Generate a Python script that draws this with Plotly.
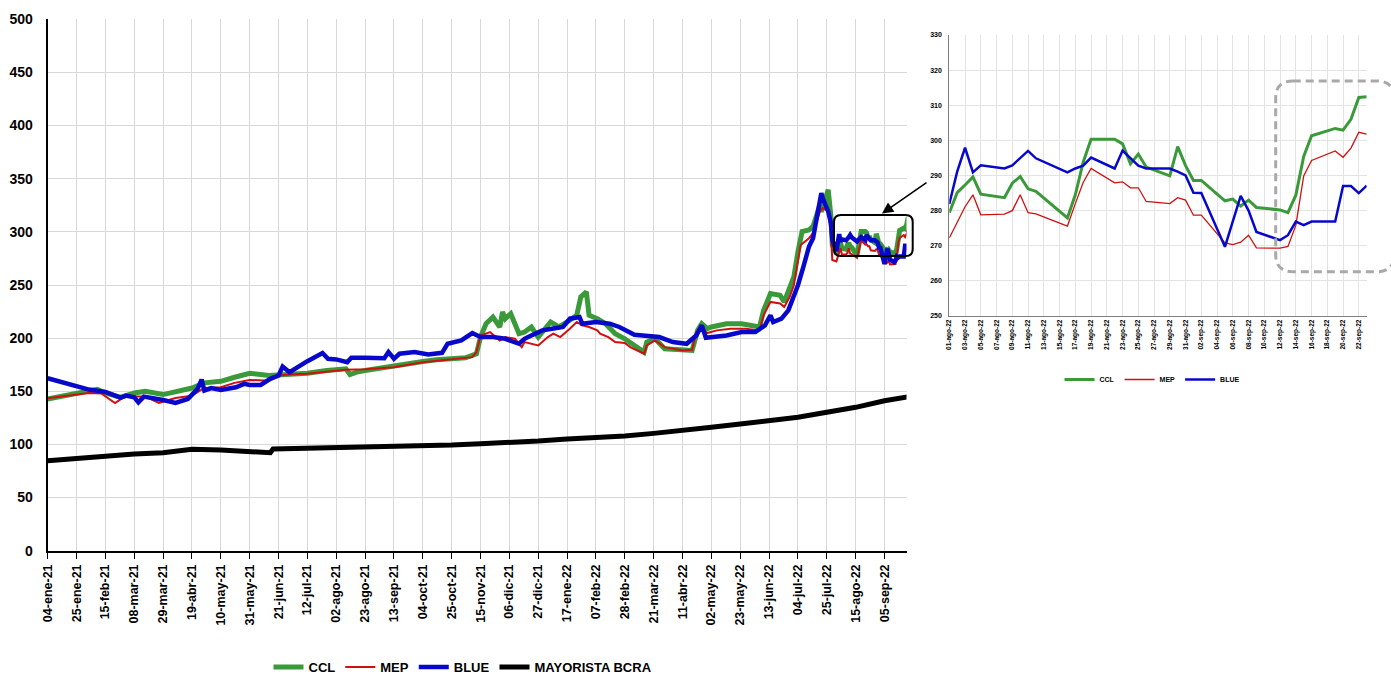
import plotly.graph_objects as go

W, H = 1391, 677

# ---------------- main chart data ----------------
ccl_dates = ["2021-01-04","2021-01-13","2021-01-25","2021-02-03","2021-02-09","2021-02-15","2021-02-26","2021-03-08","2021-03-16","2021-03-29","2021-04-07","2021-04-19","2021-04-28","2021-05-10","2021-05-20","2021-05-31","2021-06-14","2021-06-21","2021-07-02","2021-07-12","2021-07-26","2021-08-09","2021-08-12","2021-08-17","2021-08-23","2021-09-03","2021-09-13","2021-09-24","2021-10-04","2021-10-14","2021-10-25","2021-11-04","2021-11-12","2021-11-15","2021-11-19","2021-11-22","2021-11-24","2021-11-29","2021-12-01","2021-12-03","2021-12-07","2021-12-13","2021-12-17","2021-12-22","2021-12-27","2022-01-05","2022-01-11","2022-01-19","2022-01-24","2022-01-27","2022-01-31","2022-02-02","2022-02-08","2022-02-14","2022-02-21","2022-02-28","2022-03-10","2022-03-14","2022-03-16","2022-03-22","2022-03-29","2022-04-11","2022-04-18","2022-04-22","2022-04-25","2022-04-29","2022-05-02","2022-05-13","2022-05-24","2022-06-06","2022-06-09","2022-06-14","2022-06-21","2022-06-24","2022-06-27","2022-07-01","2022-07-04","2022-07-07","2022-07-12","2022-07-15","2022-07-20","2022-07-21","2022-07-26","2022-07-28","2022-07-29"]
ccl_vals = [142.8,145.0,148.4,150.0,151.9,148.4,144.3,148.4,150.0,146.9,150.0,153.1,157.9,159.4,163.2,167.0,164.8,165.4,167.0,167.0,169.5,171.1,165.7,168.0,169.5,172.0,173.3,176.5,178.0,179.6,180.6,181.5,185.3,201.0,213.6,216.8,219.9,210.5,224.6,218.3,223.0,204.2,205.7,210.5,201.0,215.2,210.5,216.8,221.5,238.8,243.5,221.5,218.3,213.6,204.2,199.4,190.0,186.8,196.3,199.4,190.0,189.1,188.4,207.3,213.6,208.9,210.5,213.6,213.6,210.5,226.1,241.9,240.4,234.0,245.0,257.7,281.3,300.2,301.8,305.0,325.4,319.0,339.6,314.5,287.6]

mep_dates = ["2021-01-04","2021-01-13","2021-01-25","2021-02-03","2021-02-12","2021-02-22","2021-03-01","2021-03-08","2021-03-16","2021-03-26","2021-04-07","2021-04-19","2021-04-28","2021-05-10","2021-05-20","2021-05-31","2021-06-14","2021-06-21","2021-06-29","2021-07-12","2021-07-26","2021-08-09","2021-08-23","2021-09-13","2021-10-04","2021-10-25","2021-11-09","2021-11-12","2021-11-15","2021-11-22","2021-11-29","2021-12-03","2021-12-10","2021-12-15","2021-12-17","2021-12-27","2022-01-03","2022-01-07","2022-01-12","2022-01-19","2022-01-24","2022-01-28","2022-02-02","2022-02-08","2022-02-10","2022-02-16","2022-02-21","2022-02-28","2022-03-04","2022-03-14","2022-03-16","2022-03-22","2022-03-29","2022-04-11","2022-04-18","2022-04-21","2022-04-25","2022-04-29","2022-05-06","2022-05-16","2022-05-27","2022-06-06","2022-06-09","2022-06-14","2022-06-21","2022-06-24","2022-06-28","2022-07-01","2022-07-04","2022-07-06","2022-07-12","2022-07-15","2022-07-20","2022-07-22","2022-07-26","2022-07-28","2022-07-29"]
mep_vals = [143.4,145.0,146.5,148.4,148.0,139.0,145.0,145.3,145.0,139.0,143.7,145.9,153.1,153.8,157.9,160.7,160.0,164.8,165.7,166.4,168.3,170.2,170.8,172.7,177.4,180.0,182.1,186.9,202.5,205.7,197.8,201.0,199.4,191.5,196.3,193.1,201.0,204.2,201.0,208.9,215.2,212.0,210.5,207.3,204.2,201.0,196.3,195.4,191.5,185.3,193.1,197.8,191.5,188.4,189.1,205.7,208.9,204.8,207.3,208.9,208.9,207.3,221.5,234.1,232.6,229.4,238.8,249.8,271.9,287.6,294.0,298.7,319.2,322.3,319.2,298.7,273.5]

blue_dates = ["2021-01-04","2021-01-13","2021-01-25","2021-02-03","2021-02-15","2021-02-26","2021-03-02","2021-03-08","2021-03-11","2021-03-15","2021-03-29","2021-04-07","2021-04-16","2021-04-23","2021-04-26","2021-04-28","2021-05-03","2021-05-10","2021-05-21","2021-05-27","2021-05-31","2021-06-08","2021-06-15","2021-06-21","2021-06-24","2021-06-29","2021-07-12","2021-07-23","2021-07-27","2021-08-02","2021-08-10","2021-08-13","2021-08-23","2021-09-06","2021-09-09","2021-09-13","2021-09-17","2021-09-28","2021-10-08","2021-10-18","2021-10-22","2021-11-01","2021-11-09","2021-11-15","2021-11-24","2021-12-03","2021-12-13","2021-12-17","2021-12-22","2021-12-30","2022-01-06","2022-01-14","2022-01-19","2022-01-26","2022-01-28","2022-02-07","2022-02-17","2022-02-24","2022-03-07","2022-03-16","2022-03-25","2022-04-04","2022-04-14","2022-04-21","2022-04-25","2022-04-28","2022-05-06","2022-05-13","2022-05-24","2022-06-03","2022-06-10","2022-06-14","2022-06-16","2022-06-22","2022-06-27","2022-07-01","2022-07-04","2022-07-08","2022-07-12","2022-07-15","2022-07-18","2022-07-21","2022-07-22","2022-07-26","2022-07-28","2022-07-29"]
blue_vals = [162.3,159.1,155.4,151.6,149.4,144.0,146.0,144.3,139.6,145.0,141.8,139.0,142.8,152.0,161.0,150.6,153.0,151.3,153.8,157.0,156.0,156.0,161.7,164.8,173.3,168.0,178.3,186.0,180.6,180.0,177.4,181.5,181.5,181.0,186.9,180.6,185.3,186.9,184.6,186.2,194.7,197.9,204.8,201.0,201.0,199.4,194.7,199.4,202.5,207.3,208.9,210.5,218.3,219.9,213.6,215.2,213.6,210.5,203.2,201.7,201.0,196.3,194.7,202.5,212.0,200.3,201.7,202.5,205.7,205.7,212.0,221.5,215.2,218.3,226.1,238.8,249.8,267.2,286.0,294.0,317.6,336.5,331.8,319.2,308.1,292.4]

mayo_dates = ["2021-01-04","2021-01-25","2021-02-15","2021-03-08","2021-03-29","2021-04-15","2021-04-19","2021-05-10","2021-05-31","2021-06-15","2021-06-17","2021-07-12","2021-08-02","2021-08-23","2021-09-13","2021-10-04","2021-10-25","2021-11-15","2021-12-06","2021-12-27","2022-01-17","2022-02-07","2022-02-28","2022-03-21","2022-04-11","2022-05-02","2022-05-23","2022-06-13","2022-07-04","2022-07-25","2022-08-15","2022-09-05","2022-09-23"]
mayo_vals = [84.7,86.9,89.1,91.0,92.2,94.1,95.4,94.7,93.1,92.2,95.7,96.3,97.3,97.9,98.5,98.8,99.4,100.7,101.6,103.2,105.1,106.3,107.9,110.4,112.9,116.1,119.2,122.3,125.5,130.2,134.9,141.1,144.9]

# ---------------- inset data (Aug-Sep 2022, daily) ----------------
ins_dates = ["2022-08-01","2022-08-02","2022-08-03","2022-08-04","2022-08-05","2022-08-08","2022-08-09","2022-08-10","2022-08-11","2022-08-12","2022-08-16","2022-08-17","2022-08-18","2022-08-19","2022-08-22","2022-08-23","2022-08-24","2022-08-25","2022-08-26","2022-08-29","2022-08-30","2022-08-31","2022-09-01","2022-09-02","2022-09-05","2022-09-06","2022-09-07","2022-09-08","2022-09-09","2022-09-12","2022-09-13","2022-09-14","2022-09-15","2022-09-16","2022-09-19","2022-09-20","2022-09-21","2022-09-22","2022-09-23"]
ccl_ins = [279.4,285.1,287.3,289.6,284.7,283.7,287.8,289.7,286.2,285.5,277.9,284.5,293.8,300.3,300.3,299.0,293.3,296.1,292.4,289.9,298.2,292.8,288.6,288.6,282.8,283.3,281.3,283.0,280.9,280.2,279.4,284.4,295.4,301.3,303.4,302.9,306.0,312.2,312.4]
mep_ins = [272.2,276.7,281.1,284.5,278.8,279.0,280.0,284.5,279.4,279.1,275.6,282.0,288.0,292.0,287.9,288.2,286.5,286.5,282.6,282.0,283.7,283.0,278.7,278.7,270.8,270.3,271.0,273.0,269.4,269.3,269.8,275.8,289.9,294.3,297.0,295.2,297.8,302.3,301.8]
blue_ins = [281.9,291.1,297.9,290.9,292.9,292.0,292.9,295.0,297.0,294.9,290.9,292.0,292.8,295.1,292.0,297.1,294.9,292.8,292.0,292.0,291.1,290.0,285.1,285.0,269.7,277.0,284.2,280.0,273.9,271.6,273.0,276.9,275.9,276.9,276.9,287.0,287.0,285.0,287.1]

# ---------------- tick labels ----------------
main_tick_dates = ["2021-01-04","2021-01-25","2021-02-15","2021-03-08","2021-03-29","2021-04-19","2021-05-10","2021-05-31","2021-06-21","2021-07-12","2021-08-02","2021-08-23","2021-09-13","2021-10-04","2021-10-25","2021-11-15","2021-12-06","2021-12-27","2022-01-17","2022-02-07","2022-02-28","2022-03-21","2022-04-11","2022-05-02","2022-05-23","2022-06-13","2022-07-04","2022-07-25","2022-08-15","2022-09-05"]
main_tick_labels = ["04-ene-21","25-ene-21","15-feb-21","08-mar-21","29-mar-21","19-abr-21","10-may-21","31-may-21","21-jun-21","12-jul-21","02-ago-21","23-ago-21","13-sep-21","04-oct-21","25-oct-21","15-nov-21","06-dic-21","27-dic-21","17-ene-22","07-feb-22","28-feb-22","21-mar-22","11-abr-22","02-may-22","23-may-22","13-jun-22","04-jul-22","25-jul-22","15-ago-22","05-sep-22"]
ins_tick_dates = ["2022-08-01","2022-08-03","2022-08-05","2022-08-07","2022-08-09","2022-08-11","2022-08-13","2022-08-15","2022-08-17","2022-08-19","2022-08-21","2022-08-23","2022-08-25","2022-08-27","2022-08-29","2022-08-31","2022-09-02","2022-09-04","2022-09-06","2022-09-08","2022-09-10","2022-09-12","2022-09-14","2022-09-16","2022-09-18","2022-09-20","2022-09-22"]
ins_tick_labels = ["01-ago-22","03-ago-22","05-ago-22","07-ago-22","09-ago-22","11-ago-22","13-ago-22","15-ago-22","17-ago-22","19-ago-22","21-ago-22","23-ago-22","25-ago-22","27-ago-22","29-ago-22","31-ago-22","02-sep-22","04-sep-22","06-sep-22","08-sep-22","10-sep-22","12-sep-22","14-sep-22","16-sep-22","18-sep-22","20-sep-22","22-sep-22"]

for a, b in [(ccl_dates, ccl_vals), (mep_dates, mep_vals), (blue_dates, blue_vals),
             (mayo_dates, mayo_vals), (ins_dates, ccl_ins), (ins_dates, mep_ins), (ins_dates, blue_ins)]:
    if len(a) != len(b):
        raise ValueError("length mismatch %d %d" % (len(a), len(b)))

GREEN = "#3a9a3a"
RED = "#d01010"
BLUE = "#0808cc"
BLACK = "#000000"

fig = go.Figure()

# main chart (Aug-Sep part continues with the daily inset values)
fig.add_trace(go.Scatter(x=ccl_dates + ins_dates, y=ccl_vals + ccl_ins, name="CCL", mode="lines",
                         line=dict(color=GREEN, width=5), xaxis="x", yaxis="y", legend="legend"))
fig.add_trace(go.Scatter(x=mep_dates + ins_dates, y=mep_vals + mep_ins, name="MEP", mode="lines",
                         line=dict(color=RED, width=2), xaxis="x", yaxis="y", legend="legend"))
fig.add_trace(go.Scatter(x=blue_dates + ins_dates, y=blue_vals + blue_ins, name="BLUE", mode="lines",
                         line=dict(color=BLUE, width=4.5), xaxis="x", yaxis="y", legend="legend"))
fig.add_trace(go.Scatter(x=mayo_dates, y=mayo_vals, name="MAYORISTA BCRA", mode="lines",
                         line=dict(color=BLACK, width=5), xaxis="x", yaxis="y", legend="legend"))

# inset
fig.add_trace(go.Scatter(x=ins_dates, y=ccl_ins, name="CCL", mode="lines",
                         line=dict(color=GREEN, width=3), xaxis="x2", yaxis="y2", legend="legend2"))
fig.add_trace(go.Scatter(x=ins_dates, y=mep_ins, name="MEP", mode="lines",
                         line=dict(color=RED, width=1.3), xaxis="x2", yaxis="y2", legend="legend2"))
fig.add_trace(go.Scatter(x=ins_dates, y=blue_ins, name="BLUE", mode="lines",
                         line=dict(color=BLUE, width=2.5), xaxis="x2", yaxis="y2", legend="legend2"))


def px_x(p):
    return p / W


def px_y(p):
    return 1 - p / H


def rounded_rect(x0, y0, x1, y1, r):
    pts = [
        ("M", [(x0 + r, y0)]), ("L", [(x1 - r, y0)]), ("Q", [(x1, y0), (x1, y0 + r)]),
        ("L", [(x1, y1 - r)]), ("Q", [(x1, y1), (x1 - r, y1)]), ("L", [(x0 + r, y1)]),
        ("Q", [(x0, y1), (x0, y1 - r)]), ("L", [(x0, y0 + r)]), ("Q", [(x0, y0), (x0 + r, y0)]),
    ]
    s = ""
    for cmd, ps in pts:
        s += cmd + " " + " ".join("%.5f,%.5f" % (px_x(a), px_y(b)) for a, b in ps) + " "
    return s + "Z"


shapes = [
    dict(type="path", xref="paper", yref="paper", path=rounded_rect(834, 215, 912.7, 256, 7),
         line=dict(color="black", width=2)),
    dict(type="path", xref="paper", yref="paper", path=rounded_rect(1275.7, 81, 1394, 271.7, 17),
         line=dict(color="#a9a9a9", width=3, dash="8px,5px")),
]

annotations = [
    dict(x=px_x(882), y=px_y(213.5), xref="paper", yref="paper", ax=46, ay=-32, text="",
         showarrow=True, arrowhead=2, arrowsize=1.4, arrowwidth=1.6, arrowcolor="black"),
]

bold = dict(family="Liberation Sans", weight="bold", color="black")

fig.update_layout(
    width=W, height=H, margin=dict(l=0, r=0, t=0, b=0, autoexpand=False),
    paper_bgcolor="white", plot_bgcolor="white",
    font=dict(family="Liberation Sans", color="black"),
    shapes=shapes, annotations=annotations,
    xaxis=dict(domain=[px_x(47.7), px_x(906.5)], anchor="y", type="date",
               range=["2021-01-04", "2022-09-21"],
               tickmode="array", tickvals=main_tick_dates, ticktext=main_tick_labels,
               tickangle=-90, tickfont=dict(size=12.5, **bold),
               showgrid=True, gridcolor="#d9d9d9", gridwidth=1,
               showline=True, linecolor="black", linewidth=1.5,
               ticks="outside", ticklen=7, tickcolor="black", automargin=False),
    yaxis=dict(domain=[px_y(550.7), px_y(19.3)], anchor="x", range=[0, 500], dtick=50,
               tickfont=dict(size=14, **bold), showgrid=True, gridcolor="#d9d9d9", gridwidth=1,
               showline=True, linecolor="black", linewidth=2, zeroline=False,
               ticks="", ticklabelstandoff=10, automargin=False),
    xaxis2=dict(domain=[px_x(949.3), px_x(1366.7)], anchor="y2", type="date",
                range=["2022-08-01", "2022-09-23"],
                tickmode="array", tickvals=ins_tick_dates, ticktext=ins_tick_labels,
                tickangle=-90, tickfont=dict(size=6.5, **bold),
                showgrid=True, gridcolor="#e3e3e3", gridwidth=1,
                showline=True, linecolor="#7f7f7f", linewidth=1,
                ticks="", automargin=False),
    yaxis2=dict(domain=[px_y(316), px_y(35)], anchor="x2", range=[250, 330], dtick=10,
                tickfont=dict(size=7, **bold), showgrid=True, gridcolor="#e3e3e3", gridwidth=1,
                showline=True, linecolor="#7f7f7f", linewidth=1, zeroline=False,
                ticks="", ticklabelstandoff=5, automargin=False),
    legend=dict(orientation="h", x=px_x(463), xanchor="center", y=px_y(667), yanchor="middle",
                font=dict(size=13, **bold), bgcolor="rgba(0,0,0,0)", itemwidth=30),
    legend2=dict(orientation="h", x=px_x(1152), xanchor="center", y=px_y(379.5), yanchor="middle",
                 font=dict(size=7, **bold), bgcolor="rgba(0,0,0,0)", itemwidth=30),
)

fig.write_html("out.html", config={"displayModeBar": False},
               post_script="document.body.style.margin='0';document.body.style.overflow='hidden';")
